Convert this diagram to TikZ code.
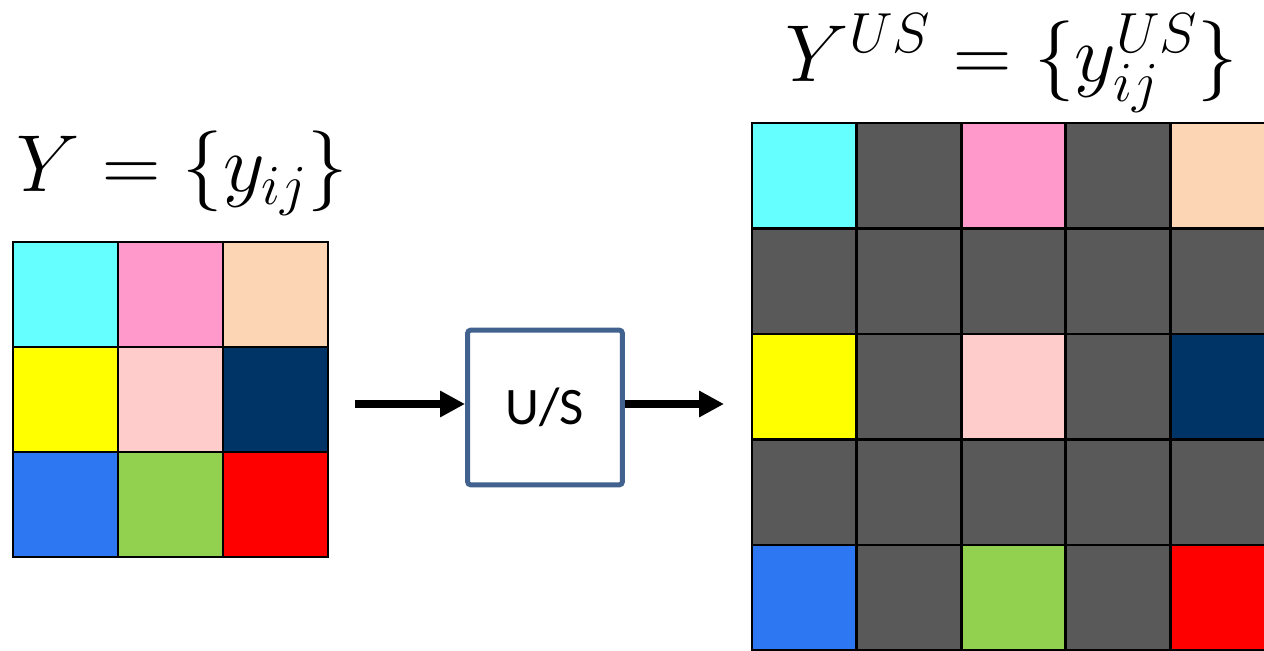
\RequirePackage{fix-cm}
\documentclass[tikz,border=0pt]{standalone}
\usepackage{fontspec}
\newfontfamily\calibri{Carlito}
\usetikzlibrary{arrows.meta}
\definecolor{cyanc}{HTML}{66FFFF}
\definecolor{pinkc}{HTML}{FF99CC}
\definecolor{peachc}{HTML}{FCD5B4}
\definecolor{yellowc}{HTML}{FFFF00}
\definecolor{lpinkc}{HTML}{FFCCCC}
\definecolor{navyc}{HTML}{003366}
\definecolor{bluec}{HTML}{2E77F2}
\definecolor{greenc}{HTML}{92D050}
\definecolor{redc}{HTML}{FF0000}
\definecolor{grayc}{HTML}{595959}
\definecolor{boxblue}{HTML}{41628F}

\begin{document}
\begin{tikzpicture}[x=0.02cm,y=-0.02cm,
  cell/.style={draw=black, line width=1.6pt, minimum size=2.1cm, inner sep=0pt, outer sep=0pt},
  cellus/.style={cell, minimum width=2.092cm, minimum height=2.11cm},
  title/.style={anchor=base, inner sep=0pt, font=\fontsize{46}{55}\selectfont},
  block/.style={draw=boxblue, line width=0.1cm, rounded corners=2pt, minimum size=3.1cm, font=\calibri\fontsize{30}{36}\selectfont},
  flow/.style={line width=0.16cm, -{Triangle[length=0.5cm,width=0.5cm]}}]
\useasboundingbox (0,0) rectangle (1264,651);
\clip (0,0) rectangle (1264,651);

% titles
\node[title] (ttlY) at (182,192) {$Y = \{y_{ij}\}$};
\node[title] (ttlU) at (1012,82) {$Y^{US} = \{y^{US}_{ij}\}$};

% input matrix
\foreach \fc [count=\k from 0] in {cyanc,pinkc,peachc,yellowc,lpinkc,navyc,bluec,greenc,redc} {
  \pgfmathtruncatemacro\rr{div(\k,3)}
  \pgfmathtruncatemacro\cc{mod(\k,3)}
  \node[cell, fill=\fc] (Y-\rr-\cc) at (65.5+105*\cc, 294.5+105*\rr) {};
}

% upsampled matrix
\foreach \fc [count=\k from 0] in {cyanc,grayc,pinkc,grayc,peachc,
    grayc,grayc,grayc,grayc,grayc,
    yellowc,grayc,lpinkc,grayc,navyc,
    grayc,grayc,grayc,grayc,grayc,
    bluec,grayc,greenc,grayc,redc} {
  \pgfmathtruncatemacro\rr{div(\k,5)}
  \pgfmathtruncatemacro\cc{mod(\k,5)}
  \node[cellus, fill=\fc] (U-\rr-\cc) at (804.3+104.6*\cc, 175.75+105.5*\rr) {};
}

% upsampling block
\node[block] (us) at (545,407.5) {U/S};
\coordinate (inY) at (355,404);
\coordinate (outU) at (724,404);
\draw[flow] (inY) -- (inY -| us.west);
\draw[flow] (outU -| us.east) -- (outU);
\end{tikzpicture}
\end{document}
